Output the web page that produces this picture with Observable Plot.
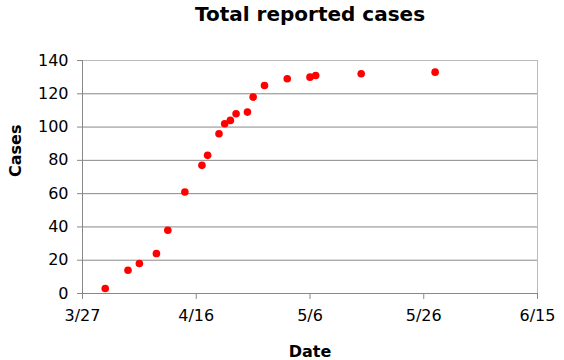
<!DOCTYPE html>
<html>
<head>
<meta charset="utf-8">
<script src="https://cdn.jsdelivr.net/npm/d3@7"></script>
<script src="https://cdn.jsdelivr.net/npm/@observablehq/plot@0.6"></script>
<style>
  body { margin: 0; background: #fff; }
  #chart svg { display: block; }
</style>
</head>
<body>
<div id="chart"></div>
<script>
const title = "Total reported cases";
const xLabel = "Date";
const yLabel = "Cases";
const dates = ["2009-03-31","2009-04-04","2009-04-06","2009-04-09","2009-04-11","2009-04-14","2009-04-17","2009-04-18","2009-04-20","2009-04-21","2009-04-22","2009-04-23","2009-04-25","2009-04-26","2009-04-28","2009-05-02","2009-05-06","2009-05-07","2009-05-15","2009-05-28"];
const cases = [3,14,18,24,38,61,77,83,96,102,104,108,109,118,125,129,130,131,132,133];
const xTicks = ["2009-03-27","2009-04-16","2009-05-06","2009-05-26","2009-06-15"];
const yTicks = [0,20,40,60,80,100,120,140];

const data = dates.map((d, i) => ({date: new Date(d), cases: cases[i]}));
const xt = xTicks.map(d => new Date(d));
const font = "DejaVu Sans, Verdana, sans-serif";

const chart = Plot.plot({
  width: 564,
  height: 360,
  marginTop: 60,
  marginBottom: 67,
  marginLeft: 82,
  marginRight: 27,
  style: {fontFamily: font, fontSize: "16px", color: "#000", background: "#fff"},
  x: {type: "utc", domain: [xt[0], xt[xt.length - 1]]},
  y: {domain: [0, 140]},
  marks: [
    Plot.ruleY(yTicks.slice(0, -1), {stroke: "#888", strokeWidth: 1, strokeOpacity: 1}),
    Plot.ruleY([140], {stroke: "#bbb", strokeWidth: 1}),
    Plot.ruleX([xt[xt.length - 1]], {stroke: "#bbb", strokeWidth: 1}),
    Plot.ruleX([xt[0]], {stroke: "#888", strokeWidth: 1}),
    Plot.axisY({ticks: yTicks, tickSize: 5, tickPadding: 9, label: null, stroke: "#888", strokeOpacity: 1, fill: "#000", fontSize: 16}),
    Plot.axisX({ticks: xt, tickSize: 6, tickPadding: 10, tickFormat: d3.utcFormat("%-m/%-d"), label: null, stroke: "#888", strokeOpacity: 1, fill: "#000", fontSize: 16}),
    Plot.dot(data, {x: "date", y: "cases", r: 3.8, fill: "#ff0000", stroke: "none"}),
    Plot.text([title], {frameAnchor: "top", dy: -46, lineAnchor: "middle", fontSize: 20, fontWeight: "bold", fill: "#000"}),
    Plot.text([xLabel], {frameAnchor: "bottom", dy: 58, lineAnchor: "middle", fontSize: 16, fontWeight: "bold", fill: "#000"}),
    Plot.text([yLabel], {frameAnchor: "left", dx: -67, rotate: -90, lineAnchor: "middle", fontSize: 16, fontWeight: "bold", fill: "#000"})
  ]
});
document.getElementById("chart").append(chart);
</script>
</body>
</html>
